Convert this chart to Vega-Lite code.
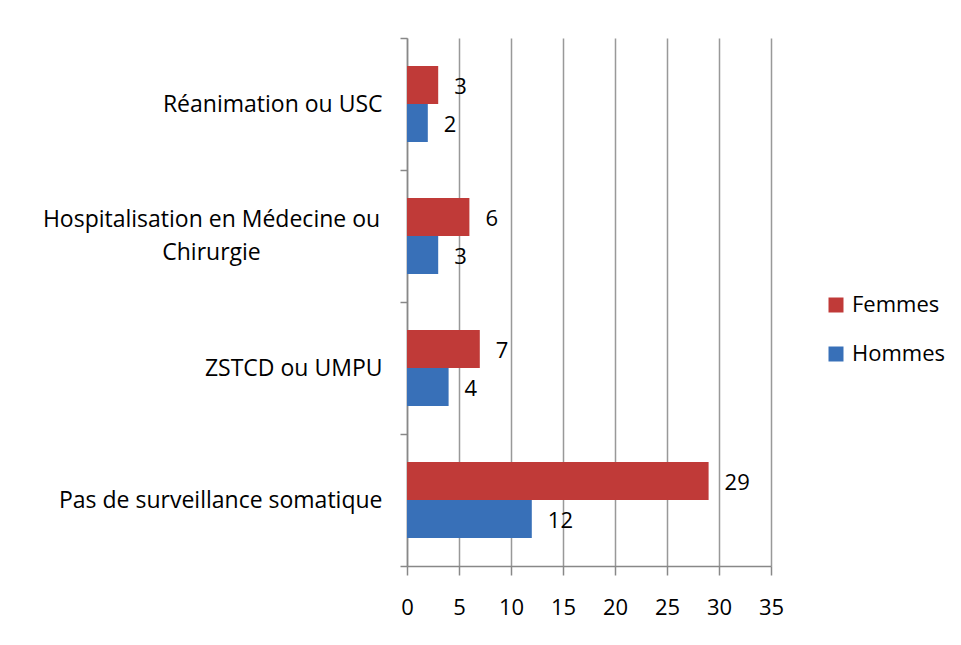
{
  "$schema": "https://vega.github.io/schema/vega-lite/v6.json",
  "width": 364,
  "height": 528,
  "autosize": "none",
  "padding": {"left": 407, "top": 38, "right": 190, "bottom": 79},
  "background": "white",
  "data": {"values": [
    {"cat": "Réanimation ou USC", "sexe": "Femmes", "n": 3},
    {"cat": "Réanimation ou USC", "sexe": "Hommes", "n": 2},
    {"cat": "Hospitalisation en Médecine ou Chirurgie", "sexe": "Femmes", "n": 6},
    {"cat": "Hospitalisation en Médecine ou Chirurgie", "sexe": "Hommes", "n": 3},
    {"cat": "ZSTCD ou UMPU", "sexe": "Femmes", "n": 7},
    {"cat": "ZSTCD ou UMPU", "sexe": "Hommes", "n": 4},
    {"cat": "Pas de surveillance somatique", "sexe": "Femmes", "n": 29},
    {"cat": "Pas de surveillance somatique", "sexe": "Hommes", "n": 12}
  ]},
  "encoding": {
    "y": {
      "field": "cat", "type": "nominal", "title": null,
      "sort": ["Réanimation ou USC", "Hospitalisation en Médecine ou Chirurgie", "ZSTCD ou UMPU", "Pas de surveillance somatique"],
      "scale": {"paddingInner": 0, "paddingOuter": 0},
      "axis": {
        "tickBand": "extent",
        "labelExpr": "datum.label == 'Hospitalisation en Médecine ou Chirurgie' ? ['Hospitalisation en Médecine ou', 'Chirurgie'] : datum.label",
        "labelLineHeight": 33,
        "labelFontSize": 23,
        "labelFont": "Open Sans",
        "labelColor": "#000000",
        "labelPadding": {"expr": "datum.value == 'Hospitalisation en Médecine ou Chirurgie' ? 189 : 18"},
        "labelAlign": {"expr": "datum.value == 'Hospitalisation en Médecine ou Chirurgie' ? 'center' : 'right'"},
        "labelOffset": {"expr": "datum.value == 'Hospitalisation en Médecine ou Chirurgie' ? -17 : 0"},
        "tickSize": 7,
        "tickColor": "#888888",
        "domainColor": "#888888",
        "domainWidth": 1.5,
        "tickWidth": 1.5,
        "labelLimit": 400
      }
    },
    "yOffset": {
      "field": "sexe", "type": "nominal", "sort": ["Femmes", "Hommes"],
      "scale": {"paddingInner": 0, "paddingOuter": 0.737}
    },
    "x": {
      "field": "n", "type": "quantitative", "title": null,
      "scale": {"domain": [0, 35], "nice": false},
      "axis": {
        "values": [0, 5, 10, 15, 20, 25, 30, 35],
        "grid": true,
        "gridColor": "#999999",
        "gridWidth": 1.5,
        "labelFontSize": 22,
        "labelFont": "Open Sans",
        "labelColor": "#000000",
        "labelPadding": 22,
        "tickSize": 9,
        "tickColor": "#888888",
        "tickWidth": 1.5,
        "domainColor": "#888888",
        "domainWidth": 1.5,
        "labelFlush": false
      }
    }
  },
  "layer": [
    {
      "mark": {"type": "bar"},
      "encoding": {
        "color": {
          "field": "sexe", "type": "nominal", "title": null,
          "sort": ["Femmes", "Hommes"],
          "scale": {"domain": ["Femmes", "Hommes"], "range": ["#C03A38", "#3870B8"]},
          "legend": {
            "orient": "none",
            "legendX": 418,
            "legendY": 256,
            "symbolType": "square",
            "symbolSize": 225,
            "symbolStrokeWidth": 0,
            "labelFontSize": 22,
            "labelFont": "Open Sans",
            "labelColor": "#000000",
            "rowPadding": 27,
            "labelOffset": 5
          }
        }
      }
    },
    {
      "mark": {"type": "text", "align": "left", "dx": 16, "dy": 2, "fontSize": 22, "font": "Open Sans", "color": "#000000"},
      "encoding": {"text": {"field": "n", "type": "quantitative"}}
    }
  ],
  "config": {"view": {"stroke": null}}
}
